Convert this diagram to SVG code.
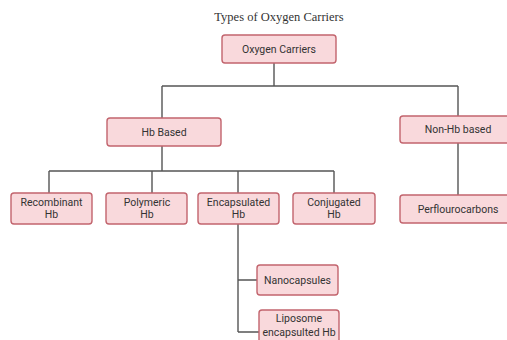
<svg xmlns="http://www.w3.org/2000/svg" width="507" height="340" viewBox="0 0 507 340">
<style>
.n rect{fill:#f9d9dc;stroke:#c2646d;stroke-width:1.4}
.n text{font-family:Roboto,"Liberation Sans",sans-serif;font-size:10.5px;fill:#333;text-anchor:middle}
.c path{fill:none;stroke:#555;stroke-width:1.4}
.t{font-family:"Liberation Serif",serif;font-size:12.5px;fill:#333;text-anchor:middle}
</style>
<rect width="507" height="340" fill="#fff"/>
<text class="t" x="279" y="21">Types of Oxygen Carriers</text>
<g class="c" id="connectors">
<path d="M274 63V86M162 86H458M162 86V118M458 86V116"/>
<path d="M162 146V171M49 171H334M49 171V193M152 171V193M238 171V193M334 171V193"/>
<path d="M458 143V195"/>
<path d="M238 224V332M238 280H257M238 332H259"/>
</g>
<g class="n" id="oxygen-carriers"><rect x="222" y="35" width="114" height="28" rx="3"/><text x="279" y="52.5">Oxygen Carriers</text></g>
<g class="n" id="hb-based"><rect x="107" y="118" width="114" height="28" rx="3"/><text x="164" y="135.5">Hb Based</text></g>
<g class="n" id="non-hb-based"><rect x="400" y="116" width="116" height="27" rx="3"/><text x="458" y="133">Non-Hb based</text></g>
<g class="n" id="recombinant-hb"><rect x="11" y="193" width="81" height="31" rx="3"/><text x="51.5" y="206">Recombinant</text><text x="51.5" y="218">Hb</text></g>
<g class="n" id="polymeric-hb"><rect x="106" y="193" width="81" height="31" rx="3"/><text x="147" y="206">Polymeric</text><text x="147" y="218">Hb</text></g>
<g class="n" id="encapsulated-hb"><rect x="198" y="193" width="81" height="31" rx="3"/><text x="238.5" y="206">Encapsulated</text><text x="238.5" y="218">Hb</text></g>
<g class="n" id="conjugated-hb"><rect x="293" y="193" width="82" height="31" rx="3"/><text x="334" y="206">Conjugated</text><text x="334" y="218">Hb</text></g>
<g class="n" id="perflourocarbons"><rect x="400" y="195" width="116" height="28" rx="3"/><text x="458" y="212.5">Perflourocarbons</text></g>
<g class="n" id="nanocapsules"><rect x="257" y="265" width="81" height="30" rx="3"/><text x="297.5" y="283.5">Nanocapsules</text></g>
<g class="n" id="liposome-encapsulted-hb"><rect x="259" y="310" width="80" height="36" rx="3"/><text x="299" y="322">Liposome</text><text x="299" y="335.5">encapsulted Hb</text></g>
</svg>
